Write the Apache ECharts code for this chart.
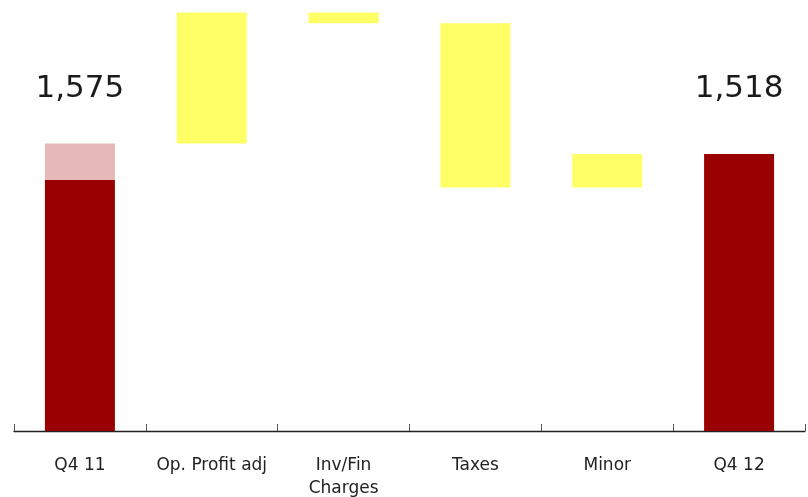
<!DOCTYPE html>
<html>
<head>
<meta charset="utf-8">
<script src="https://cdn.jsdelivr.net/npm/echarts@6/dist/echarts.min.js"></script>
<style>
  html, body { margin: 0; padding: 0; background: #fff; }
  #chart { width: 808px; height: 497px; }
</style>
</head>
<body>
<div id="chart"></div>
<script>
// Net profit bridge, Q4 11 to Q4 12
const categories = ['Q4 11', 'Op. Profit adj', 'Inv/Fin\nCharges', 'Taxes', 'Minor', 'Q4 12'];
const startTotal = 1575;      // Q4 11 reported
const startCore = 1375;       // darker portion of the Q4 11 bar
const changes = [719, -60, -899, 183]; // Op. Profit adj, Inv/Fin Charges, Taxes, Minor
const endTotal = 1518;        // Q4 12 reported

// Build the floating (invisible) offsets and visible step heights
const baseData = [0];
const stepData = ['-'];
let running = startTotal;
changes.forEach(c => {
  const next = running + c;
  baseData.push(Math.min(running, next));
  stepData.push(Math.abs(c));
  running = next;
});
baseData.push(0);
stepData.push('-');

const coreData = [startCore, '-', '-', '-', '-', endTotal];
const topData = [startTotal - startCore, '-', '-', '-', '-', '-'];

const fmt = v => v.toLocaleString('en-US');
const bigLabel = {
  show: true,
  position: 'top',
  fontFamily: 'DejaVu Sans',
  fontSize: 31,
  lineHeight: 32,
  color: '#1a1a1a'
};

const chart = echarts.init(document.getElementById('chart'));
chart.setOption({
  animation: false,
  grid: { left: 14, right: 3, top: 0, bottom: 66, containLabel: false, outerBoundsMode: 'none' },
  xAxis: {
    type: 'category',
    data: categories,
    axisLine: { show: true, lineStyle: { color: '#222', width: 1.3 } },
    axisTick: { show: true, inside: true, length: 7, alignWithLabel: false, lineStyle: { color: '#555' } },
    axisLabel: {
      margin: 23,
      fontFamily: 'DejaVu Sans',
      fontSize: 17,
      lineHeight: 23,
      color: '#222',
      interval: 0
    }
  },
  yAxis: { type: 'value', min: 0, max: 2362, show: false, splitLine: { show: false } },
  series: [
    {
      name: 'base', type: 'bar', stack: 'w', barWidth: 70,
      itemStyle: { color: 'transparent' },
      data: baseData, silent: true
    },
    {
      name: 'core', type: 'bar', stack: 'w', barWidth: 70,
      itemStyle: { color: '#990000' },
      data: coreData.map((v, i) => i === 5
        ? { value: v, label: Object.assign({}, bigLabel, { distance: 49, formatter: () => fmt(endTotal) }) }
        : v)
    },
    {
      name: 'top', type: 'bar', stack: 'w', barWidth: 70,
      itemStyle: { color: '#E6B8B7' },
      data: topData.map((v, i) => i === 0
        ? { value: v, label: Object.assign({}, bigLabel, { distance: 39, formatter: () => fmt(startTotal) }) }
        : v)
    },
    {
      name: 'step', type: 'bar', stack: 'w', barWidth: 70,
      itemStyle: { color: '#FFFF66' },
      data: stepData
    }
  ]
});
</script>
</body>
</html>
